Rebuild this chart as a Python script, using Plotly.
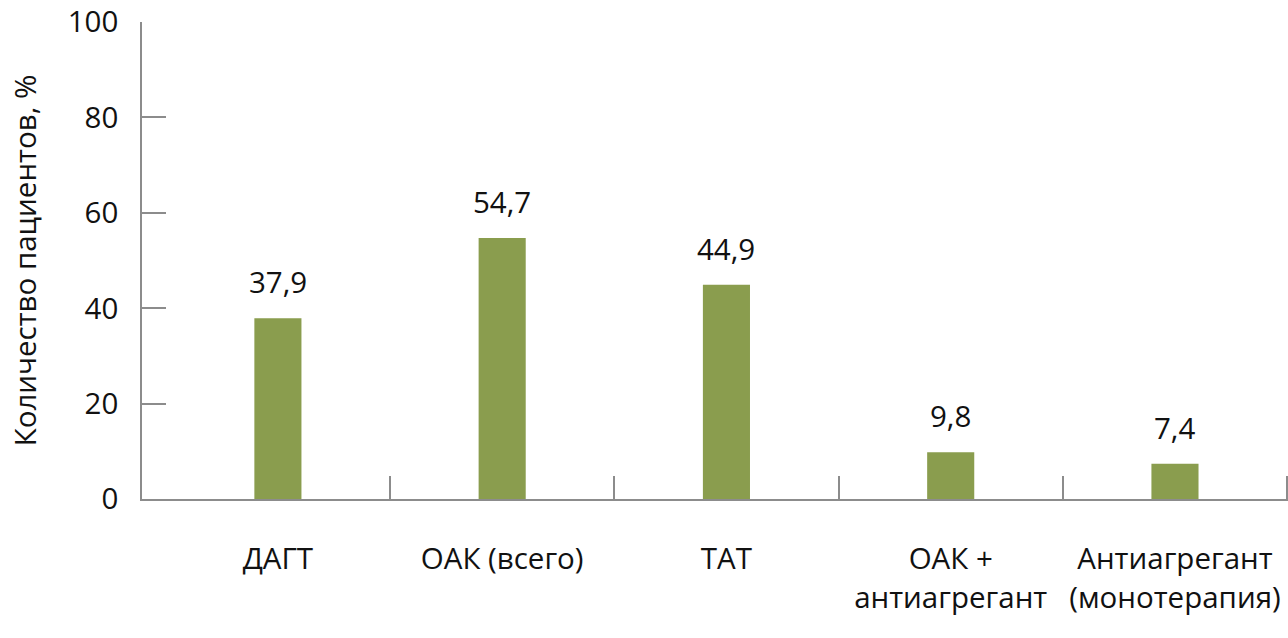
import plotly.graph_objects as go

categories = ["ДАГТ", "ОАК (всего)", "ТАТ", "ОАК +<br>антиагрегант", "Антиагрегант<br>(монотерапия)"]
values = [37.9, 54.7, 44.9, 9.8, 7.4]
y_ticks = [0, 20, 40, 60, 80, 100]
y_title = "Количество пациентов, %"

FONT = "Open Sans"
FS = 29.5
BAR = "#8A9D4E"
AX = "#8C8C8C"
TXT = "#111111"

xs = list(range(len(categories)))
fig = go.Figure()
fig.add_trace(go.Bar(x=xs, y=values, width=0.21, marker=dict(color=BAR, line=dict(width=0)),
                     hoverinfo="skip"))

for x, v in zip(xs, values):
    fig.add_annotation(x=x, y=v, xref="x", yref="y", text=f"{v:.1f}".replace(".", ","),
                       showarrow=False, yanchor="bottom", yshift=14,
                       font=dict(family=FONT, size=FS, color=TXT))

fig.update_layout(
    width=1288, height=638,
    margin=dict(l=142, r=0, t=22, b=139),
    paper_bgcolor="white", plot_bgcolor="white",
    showlegend=False,
    font=dict(family=FONT, size=FS, color=TXT),
)
fig.update_xaxes(
    range=[-0.606, 4.504], tickvals=xs, ticktext=categories, ticks="",
    showline=True, linecolor=AX, linewidth=1.5, showgrid=False, zeroline=False,
    ticklabelstandoff=33, automargin=False, ticklabeloverflow="allow",
    minor=dict(tickvals=[i + 0.5 for i in xs], ticks="inside", ticklen=23, tickcolor=AX, tickwidth=1.5),
    tickfont=dict(family=FONT, size=FS, color=TXT),
)
fig.update_yaxes(
    range=[0, 100], tickvals=y_ticks, ticks="inside", ticklen=24, tickcolor=AX, tickwidth=1.5,
    showline=True, linecolor=AX, linewidth=1.5, showgrid=False, zeroline=False,
    ticklabelstandoff=16, automargin=False, ticklabeloverflow="allow",
    title=dict(text=y_title, font=dict(family=FONT, size=FS, color=TXT), standoff=22),
    tickfont=dict(family=FONT, size=FS, color=TXT),
)
fig.write_html("out.html", config={"displayModeBar": False},
               post_script="document.body.style.margin='0';document.body.style.overflow='hidden';")
